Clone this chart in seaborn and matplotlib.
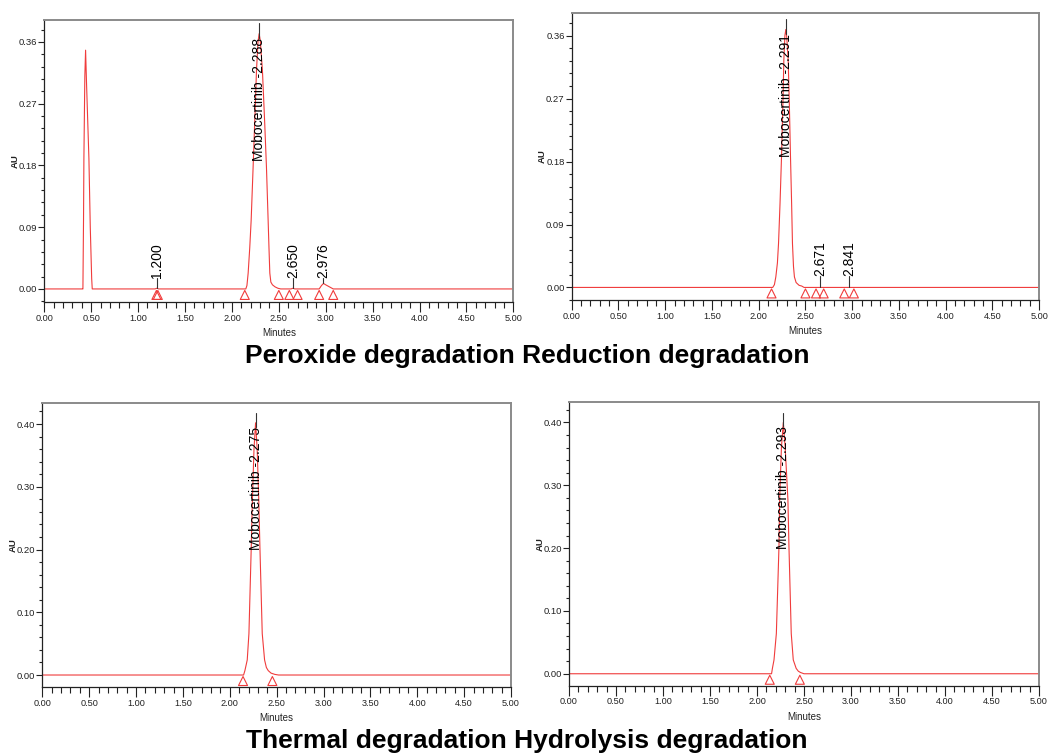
import matplotlib
matplotlib.use("Agg")
import matplotlib.pyplot as plt
import matplotlib.transforms as mtransforms
from matplotlib.ticker import MultipleLocator, FormatStrFormatter
import pandas as pd
import seaborn as sns

# traces (minutes, AU)
peroxide_min = [0.00, 0.41, 0.4115, 0.418, 0.422, 0.432, 0.44, 0.45, 0.4755, 0.49, 0.50, 0.505, 0.511,
                1.18, 1.20, 1.22, 2.10, 2.148, 2.16, 2.173, 2.19, 2.205, 2.226, 2.25, 2.262, 2.278,
                2.29, 2.302, 2.325, 2.35, 2.368, 2.386, 2.395, 2.404, 2.415, 2.432, 2.46, 2.49, 2.52,
                2.63, 2.65, 2.67, 2.93, 2.955, 2.976, 3.00, 3.04, 3.08, 5.00]
peroxide_au = [0, 0, 0, 0.10, 0.19, 0.31, 0.348, 0.30, 0.19, 0.09, 0.04, 0.015, 0,
               0, 0.001, 0, 0, 0, 0.005, 0.023, 0.06, 0.10, 0.178, 0.27, 0.319, 0.36,
               0.372, 0.362, 0.319, 0.24, 0.178, 0.10, 0.06, 0.023, 0.01, 0.006, 0.003, 0.001, 0,
               0, 0.001, 0, 0, 0.005, 0.008, 0.006, 0.003, 0, 0]
peroxide_marks = [1.195, 1.21, 2.137, 2.50, 2.612, 2.70, 2.93, 3.08]
peroxide_main = "Mobocertinib -2.288"
peroxide_main_x = 2.29
peroxide_minor = ["1.200", "2.650", "2.976"]
peroxide_minor_x = [1.20, 2.65, 2.976]

reduction_min = [0.00, 2.10, 2.150, 2.168, 2.183, 2.20, 2.212, 2.228, 2.244, 2.26, 2.269, 2.28, 2.29,
                 2.30, 2.315, 2.328, 2.34, 2.352, 2.361, 2.372, 2.382, 2.40, 2.432, 2.46, 2.485, 5.00]
reduction_au = [0, 0, 0, 0.004, 0.015, 0.035, 0.063, 0.12, 0.187, 0.27, 0.326, 0.36, 0.369,
                0.358, 0.326, 0.26, 0.187, 0.12, 0.063, 0.03, 0.015, 0.007, 0.003, 0.002, 0, 0]
reduction_marks = [2.137, 2.50, 2.613, 2.695, 2.915, 3.018]
reduction_main = "Mobocertinib -2.291"
reduction_main_x = 2.29
reduction_minor = ["2.671", "2.841"]
reduction_minor_x = [2.655, 2.97]

thermal_min = [0.00, 2.10, 2.147, 2.161, 2.186, 2.204, 2.229, 2.241, 2.258, 2.275, 2.292, 2.309,
               2.321, 2.346, 2.371, 2.39, 2.41, 2.44, 2.48, 2.52, 5.00]
thermal_au = [0, 0, 0, 0.007, 0.024, 0.066, 0.205, 0.279, 0.36, 0.402, 0.36, 0.279,
              0.205, 0.066, 0.024, 0.012, 0.007, 0.003, 0.001, 0, 0]
thermal_marks = [2.141, 2.454]
thermal_main = "Mobocertinib -2.275"
thermal_main_x = 2.275

hydrolysis_min = [0.00, 2.10, 2.155, 2.164, 2.181, 2.206, 2.234, 2.241, 2.26, 2.28, 2.30, 2.329,
                  2.34, 2.3645, 2.386, 2.417, 2.44, 2.463, 2.50, 5.00]
hydrolysis_au = [0, 0, 0, 0.0085, 0.022, 0.064, 0.203, 0.277, 0.36, 0.40, 0.36, 0.277,
                 0.203, 0.064, 0.022, 0.0085, 0.004, 0.002, 0, 0]
hydrolysis_marks = [2.136, 2.456]
hydrolysis_main = "Mobocertinib -2.293"
hydrolysis_main_x = 2.28

titles = ["Peroxide degradation Reduction degradation",
          "Thermal degradation Hydrolysis degradation"]

sns.set_theme(style="ticks")
plt.rcParams["font.family"] = ["Liberation Sans", "DejaVu Sans"]
RED = "#f03c3c"
INK = "#222222"
W, H = 1050, 754

fig = plt.figure(figsize=(W / 100, H / 100), dpi=100)

panels = [
    dict(t=peroxide_min, au=peroxide_au, marks=peroxide_marks, main=peroxide_main,
         main_x=peroxide_main_x, minor=peroxide_minor, minor_x=peroxide_minor_x,
         rect=[0.0422, 0.5995, 0.4467, 0.3740], ylim=(-0.019, 0.392), step=0.09),
    dict(t=reduction_min, au=reduction_au, marks=reduction_marks, main=reduction_main,
         main_x=reduction_main_x, minor=reduction_minor, minor_x=reduction_minor_x,
         rect=[0.5445, 0.6021, 0.4452, 0.3811], ylim=(-0.018, 0.393), step=0.09),
    dict(t=thermal_min, au=thermal_au, marks=thermal_marks, main=thermal_main,
         main_x=thermal_main_x, minor=[], minor_x=[],
         rect=[0.0403, 0.0892, 0.4464, 0.3767], ylim=(-0.0187, 0.434), step=0.10),
    dict(t=hydrolysis_min, au=hydrolysis_au, marks=hydrolysis_marks, main=hydrolysis_main,
         main_x=hydrolysis_main_x, minor=[], minor_x=[],
         rect=[0.5419, 0.0906, 0.4476, 0.3766], ylim=(-0.019, 0.433), step=0.10),
]

for p in panels:
    ax = fig.add_axes(p["rect"])
    df = pd.DataFrame({"Minutes": p["t"], "AU": p["au"]})
    sns.lineplot(data=df, x="Minutes", y="AU", ax=ax, color=RED, lw=0.8,
                 estimator=None, sort=False)

    # peak start / end markers, a few pixels under the baseline
    tri = mtransforms.offset_copy(ax.transData, fig=fig, y=-6, units="dots")
    ax.scatter(p["marks"], [0] * len(p["marks"]), marker="^", s=42, facecolors="none",
               edgecolors=RED, linewidths=0.8, transform=tri, zorder=3, clip_on=False)

    # main peak label
    apex = df.loc[(df["Minutes"] - p["main_x"]).abs().idxmin(), "AU"]
    ax.plot([p["main_x"], p["main_x"]], [apex - 0.006, apex + 0.015], color="#333333", lw=0.8)
    ax.text(p["main_x"], apex - 0.006, p["main"], rotation=90, ha="center", va="top",
            fontsize=10, color="black")

    # small peak labels
    for txt, x in zip(p["minor"], p["minor_x"]):
        y0 = df.loc[(df["Minutes"] - x).abs().idxmin(), "AU"]
        ax.plot([x, x], [y0, 0.016], color="#333333", lw=0.8)
        ax.text(x, 0.016, txt, rotation=90, ha="center", va="bottom", fontsize=10, color="black")

    ax.set_xlim(0, 5)
    ax.set_ylim(*p["ylim"])
    ax.xaxis.set_major_locator(MultipleLocator(0.5))
    ax.xaxis.set_minor_locator(MultipleLocator(0.1))
    ax.yaxis.set_major_locator(MultipleLocator(p["step"]))
    ax.yaxis.set_minor_locator(MultipleLocator(p["step"] / 5))
    ax.xaxis.set_major_formatter(FormatStrFormatter("%.2f"))
    ax.yaxis.set_major_formatter(FormatStrFormatter("%.2f"))

    ax.tick_params(axis="x", which="major", length=7, width=0.8, pad=1.5, labelsize=6.6,
                   colors=INK)
    ax.tick_params(axis="x", which="minor", length=4, width=0.8, colors=INK)
    ax.tick_params(axis="y", which="major", length=4, width=0.8, pad=1.2, labelsize=6.8,
                   colors=INK)
    ax.tick_params(axis="y", which="minor", length=2.5, width=0.8, colors=INK)

    for side in ["top", "right"]:
        ax.spines[side].set_color("#8a8a8a")
        ax.spines[side].set_linewidth(1.4)
    for side in ["left", "bottom"]:
        ax.spines[side].set_color(INK)
        ax.spines[side].set_linewidth(0.9)

    w_px = p["rect"][2] * W
    h_px = p["rect"][3] * H
    ax.set_xlabel("Minutes", fontsize=7, color=INK)
    ax.xaxis.set_label_coords(0.5, -31 / h_px)
    ax.xaxis.label.set_va("center")
    ax.set_ylabel("AU", fontsize=6.8, fontweight="bold", color=INK)
    ax.yaxis.set_label_coords(-29 / w_px, 0.5)
    ax.yaxis.label.set_va("center")

fig.text(0.502, 0.519, titles[0], ha="center", va="baseline", fontsize=19,
         fontweight="bold", color="black")
fig.text(0.502, 0.008, titles[1], ha="center", va="baseline", fontsize=19,
         fontweight="bold", color="black")

fig.savefig("out.png", dpi=100)
